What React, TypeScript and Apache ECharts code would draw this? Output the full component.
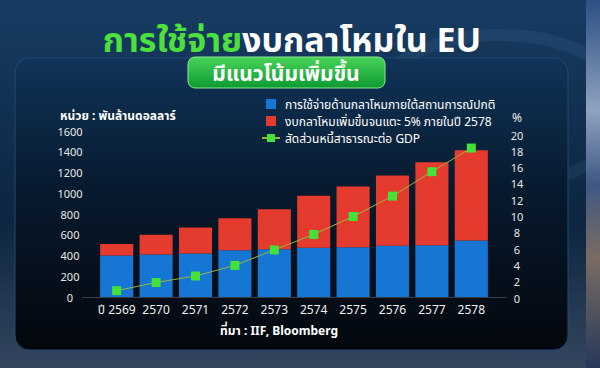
import React, { useEffect, useRef } from "react";
import * as echarts from "echarts";

const categories = ["ปี 2569", "2570", "2571", "2572", "2573", "2574", "2575", "2576", "2577", "2578"];
const baseSpending = [400, 410, 420, 450, 460, 475, 480, 495, 500, 545];
const extraSpending = [110, 190, 250, 310, 385, 500, 585, 675, 800, 870];
const debtToGdp = [0.9, 1.9, 2.7, 4.0, 5.9, 7.8, 10.0, 12.5, 15.5, 18.4];
const leftTicks = { min: 0, max: 1600, interval: 200 };
const rightTicks = { min: 0, max: 20, interval: 2 };

const seriesNames = [
  "การใช้จ่ายด้านกลาโหมภายใต้สถานการณ์ปกติ",
  "งบกลาโหมเพิ่มขึ้นจนแตะ 5% ภายในปี 2578",
  "สัดส่วนหนี้สาธารณะต่อ GDP",
];

const FONT = "'Noto Sans', 'Noto Sans Thai', 'Loma', 'Garuda', 'Tlwg Typo', sans-serif";

export default function App() {
  const ref = useRef<HTMLDivElement>(null);
  useEffect(() => {
    document.body.style.margin = "0";
    const chart = echarts.init(ref.current!, null, { renderer: "svg" });
    const sq = "path://M0,0h10v10h-10z";
    chart.setOption({
      animation: false,
      backgroundColor: "#0b2139",
      textStyle: { fontFamily: FONT },
      graphic: [
        {
          type: "rect",
          z: -10,
          shape: { x: 0, y: 0, width: 600, height: 368 },
          style: {
            fill: new echarts.graphic.LinearGradient(0, 0, 0, 1, [
              { offset: 0, color: "#173c63" },
              { offset: 0.6, color: "#0d2540" },
              { offset: 1, color: "#34465e" },
            ]),
          },
        },
        {
          type: "ellipse",
          z: -9,
          shape: { cx: 500, cy: 110, rx: 130, ry: 75 },
          style: { fill: "none", stroke: "rgba(120,160,210,0.1)", lineWidth: 12 },
        },
        {
          type: "rect",
          z: -9,
          shape: { x: 586, y: 0, width: 14, height: 368 },
          style: {
            fill: new echarts.graphic.LinearGradient(0, 0, 0, 1, [
              { offset: 0, color: "#2c4f82" },
              { offset: 0.3, color: "#8fa2c0" },
              { offset: 0.5, color: "#3f5783" },
              { offset: 0.7, color: "#7a6c62" },
              { offset: 1, color: "#26385a" },
            ]),
          },
        },
        {
          type: "rect",
          z: -8,
          shape: { x: 15, y: 58, width: 553, height: 292, r: 14 },
          style: {
            fill: new echarts.graphic.LinearGradient(0, 0, 0, 1, [
              { offset: 0, color: "#103459" },
              { offset: 0.45, color: "#071a2e" },
              { offset: 1, color: "#03070d" },
            ]),
            stroke: "#1f4a73",
            lineWidth: 1,
          },
        },
        {
          type: "text",
          x: 292,
          y: 39,
          style: {
            text: "{g|การใช้จ่าย}{w|งบกลาโหมใน EU}",
            align: "center",
            verticalAlign: "middle",
            rich: {
              g: { fill: "#4be03c", fontSize: 34, fontWeight: "bold", fontFamily: FONT },
              w: { fill: "#ffffff", fontSize: 34, fontWeight: "bold", fontFamily: FONT },
            },
          },
        },
        {
          type: "rect",
          shape: { x: 188, y: 57, width: 197, height: 31, r: 7 },
          style: {
            fill: new echarts.graphic.LinearGradient(0, 0, 0, 1, [
              { offset: 0, color: "#48d458" },
              { offset: 1, color: "#0d9a31" },
            ]),
            stroke: "#8be88f",
            lineWidth: 1,
          },
        },
        {
          type: "text",
          x: 286,
          y: 73,
          style: {
            text: "มีแนวโน้มเพิ่มขึ้น",
            fill: "#ffffff",
            fontSize: 21,
            fontWeight: "bold",
            fontFamily: FONT,
            align: "center",
            verticalAlign: "middle",
          },
        },
        {
          type: "text",
          x: 60,
          y: 115,
          style: {
            text: "หน่วย : พันล้านดอลลาร์",
            fill: "#ffffff",
            fontSize: 12,
            fontWeight: "bold",
            fontFamily: FONT,
            verticalAlign: "middle",
          },
        },
        {
          type: "text",
          x: 517,
          y: 117,
          style: {
            text: "%",
            fill: "#e8e8e8",
            fontSize: 12,
            fontFamily: FONT,
            align: "center",
            verticalAlign: "middle",
          },
        },
        {
          type: "line",
          shape: { x1: 82, y1: 297.5, x2: 506, y2: 297.5 },
          style: { stroke: "#3a3f47", lineWidth: 1.2 },
        },
        {
          type: "text",
          x: 338,
          y: 330,
          style: {
            text: "ที่มา : IIF, Bloomberg",
            fill: "#ffffff",
            fontSize: 12,
            fontWeight: "bold",
            fontFamily: FONT,
            align: "right",
            verticalAlign: "middle",
          },
        },
      ],
      legend: {
        orient: "vertical",
        left: 256,
        top: 93,
        itemWidth: 18,
        itemHeight: 10,
        itemGap: 5,
        selectedMode: false,
        textStyle: { color: "#ffffff", fontSize: 12, fontFamily: FONT },
        data: [
          { name: seriesNames[0], icon: sq },
          { name: seriesNames[1], icon: sq },
          { name: seriesNames[2] },
        ],
      },
      grid: [
        { left: 97, right: 109, top: 131, bottom: 71 },
        { left: 97, right: 109, top: 135, bottom: 70 },
      ],
      xAxis: [
        {
          type: "category",
          gridIndex: 0,
          data: categories,
          axisLine: { show: false },
          axisTick: { show: false },
          axisLabel: { color: "#f0f0f0", fontSize: 12, margin: 6, interval: 0, fontFamily: FONT },
        },
        {
          type: "category",
          gridIndex: 1,
          data: categories,
          show: false,
        },
      ],
      yAxis: [
        {
          type: "value",
          gridIndex: 0,
          min: leftTicks.min,
          max: leftTicks.max,
          interval: leftTicks.interval,
          splitLine: { show: false },
          axisLine: { show: false },
          axisTick: { show: false },
          axisLabel: {
            color: "#e8e8e8",
            fontSize: 11,
            align: "center",
            margin: 27,
            fontFamily: FONT,
            formatter: (v: number) => String(v),
          },
        },
        {
          type: "value",
          gridIndex: 1,
          position: "right",
          min: rightTicks.min,
          max: rightTicks.max,
          interval: rightTicks.interval,
          splitLine: { show: false },
          axisLine: { show: false },
          axisTick: { show: false },
          axisLabel: {
            color: "#e8e8e8",
            fontSize: 11,
            align: "center",
            margin: 26,
            fontFamily: FONT,
            formatter: (v: number) => String(v),
          },
        },
      ],
      series: [
        {
          name: seriesNames[0],
          type: "bar",
          stack: "t",
          xAxisIndex: 0,
          yAxisIndex: 0,
          data: baseSpending,
          barCategoryGap: "16%",
          itemStyle: { color: "#1577d3" },
        },
        {
          name: seriesNames[1],
          type: "bar",
          stack: "t",
          xAxisIndex: 0,
          yAxisIndex: 0,
          data: extraSpending,
          barCategoryGap: "16%",
          itemStyle: { color: "#e53b2f" },
        },
        {
          name: seriesNames[2],
          type: "line",
          xAxisIndex: 1,
          yAxisIndex: 1,
          data: debtToGdp,
          symbol: "rect",
          symbolSize: 9,
          lineStyle: { color: "#a3b142", width: 1 },
          itemStyle: { color: "#41e23a" },
          z: 5,
        },
      ],
    });
    return () => chart.dispose();
  }, []);
  return <div ref={ref} style={{ position: "fixed", left: 0, top: 0, width: 600, height: 368 }} />;
}
